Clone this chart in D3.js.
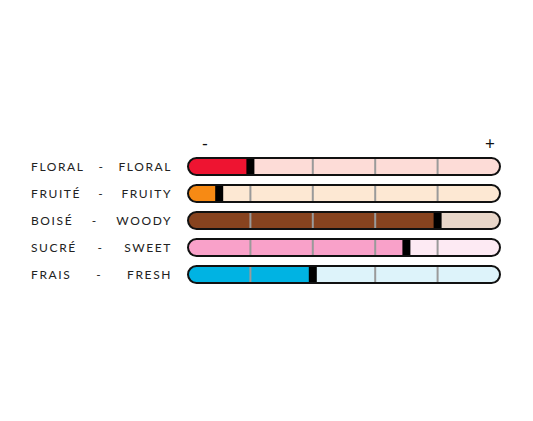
<!DOCTYPE html>
<html lang="fr">
<head>
<meta charset="UTF-8">
<title>Profil olfactif</title>
<script src="https://d3js.org/d3.v7.min.js"></script>
<style>
    body { margin: 0; background: #fff; font-family: "Lato", "DejaVu Sans", sans-serif; }
    .label { font-size: 12px; letter-spacing: 1.6px; fill: #222; }
    .sign { font-size: 17px; fill: #111; }
</style>
</head>
<body>
<svg width="533" height="421"></svg>
<script>
    // données
    const frLabels = ["FLORAL", "FRUITÉ", "BOISÉ", "SUCRÉ", "FRAIS"];
    const enLabels = ["FLORAL", "FRUITY", "WOODY", "SWEET", "FRESH"];
    const values = [1, 0.5, 4, 3.5, 2];
    const darkColors = ["#ee1431", "#f78a14", "#87431f", "#f9a1c9", "#00b3e3"];
    const lightColors = ["#fddcd7", "#fde8d3", "#e8d6c9", "#fdeaf3", "#ddf3fa"];
    const ticks = [1, 2, 3, 4];

    const svg = d3.select("svg");

    const x = d3.scaleLinear().domain([0, 5]).range([188, 500]);
    const y = d3.scalePoint().domain(d3.range(frLabels.length)).range([166.5, 274.5]);

    const barH = 17, rx = 8.5, markW = 8;

    const rows = svg.selectAll(".row")
        .data(frLabels)
        .enter().append("g")
        .attr("class", "row")
        .attr("transform", (d, i) => `translate(0,${y(i)})`);

    // clip arrondi par barre
    rows.append("clipPath")
        .attr("id", (d, i) => "clip" + i)
        .append("rect")
        .attr("x", x(0)).attr("y", -barH / 2)
        .attr("width", x(5) - x(0)).attr("height", barH)
        .attr("rx", rx);

    const inner = rows.append("g").attr("clip-path", (d, i) => `url(#clip${i})`);

    inner.append("rect")
        .attr("x", x(0)).attr("y", -barH / 2)
        .attr("width", x(5) - x(0)).attr("height", barH)
        .attr("fill", (d, i) => lightColors[i]);

    inner.append("rect")
        .attr("x", x(0)).attr("y", -barH / 2)
        .attr("width", (d, i) => x(values[i]) - x(0))
        .attr("height", barH)
        .attr("fill", (d, i) => darkColors[i]);

    inner.selectAll(".tick")
        .data(ticks)
        .enter().append("line")
        .attr("x1", t => x(t)).attr("x2", t => x(t))
        .attr("y1", -barH / 2).attr("y2", barH / 2)
        .attr("stroke", "#9a9a9a").attr("stroke-width", 2);

    inner.append("rect")
        .attr("x", (d, i) => x(values[i]) - markW / 2)
        .attr("y", -barH / 2)
        .attr("width", markW).attr("height", barH)
        .attr("fill", "#000");

    rows.append("rect")
        .attr("x", x(0)).attr("y", -barH / 2)
        .attr("width", x(5) - x(0)).attr("height", barH)
        .attr("rx", rx)
        .attr("fill", "none")
        .attr("stroke", "#111").attr("stroke-width", 2);

    // libellés
    rows.each(function (d, i) {
        const g = d3.select(this);
        const fr = g.append("text").attr("class", "label")
            .attr("x", 31).attr("dy", "0.36em").text(frLabels[i]);
        const en = g.append("text").attr("class", "label")
            .attr("x", 172).attr("dy", "0.36em").attr("text-anchor", "end").text(enLabels[i]);
        const frEnd = 31 + fr.node().getComputedTextLength();
        const enStart = 172 - en.node().getComputedTextLength();
        g.append("text").attr("class", "label")
            .attr("x", (frEnd + enStart) / 2).attr("dy", "0.36em")
            .attr("text-anchor", "middle").text("-");
    });

    svg.append("text").attr("class", "sign")
        .attr("x", 205).attr("y", 150).attr("text-anchor", "middle").text("-");
    svg.append("text").attr("class", "sign")
        .attr("x", 490).attr("y", 150).attr("text-anchor", "middle").text("+");
</script>
</body>
</html>
